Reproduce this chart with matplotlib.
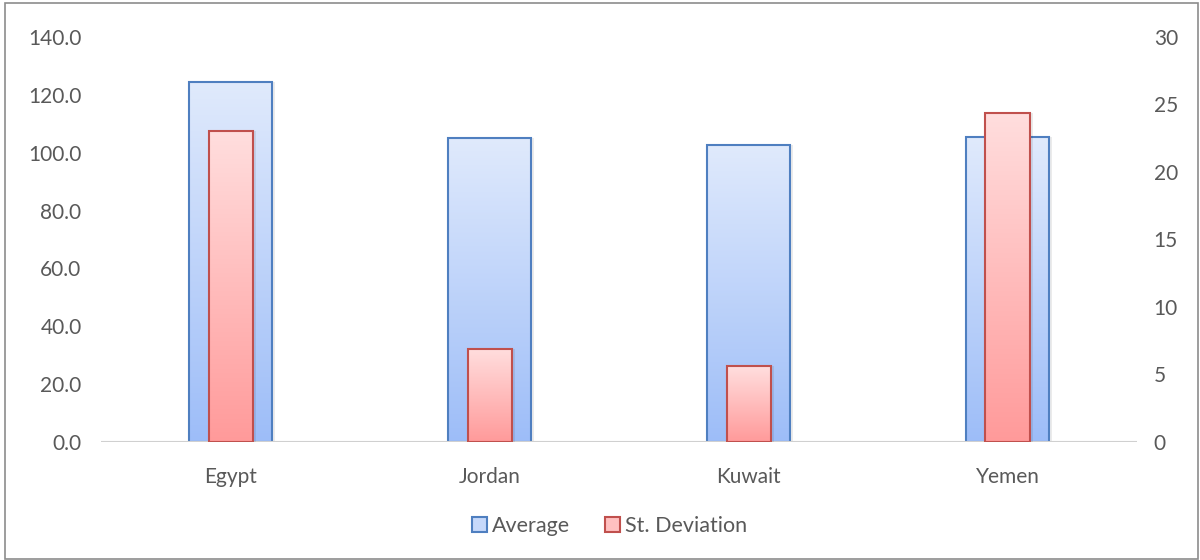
import numpy as np
import matplotlib.pyplot as plt
from matplotlib.colors import LinearSegmentedColormap
from matplotlib.patches import Rectangle, Patch

countries = ["Egypt", "Jordan", "Kuwait", "Yemen"]
average = [124.4, 105.1, 102.7, 105.4]
st_dev = [23.0, 6.9, 5.6, 24.4]

left_ticks = [0, 20, 40, 60, 80, 100, 120, 140]
right_ticks = [0, 5, 10, 15, 20, 25, 30]

plt.rcParams['font.family'] = ['Lato', 'DejaVu Sans']

blue_cmap = LinearSegmentedColormap.from_list("b", ["#9dbdf8", "#e0eafc"])
red_cmap = LinearSegmentedColormap.from_list("r", ["#ff9a9a", "#ffdede"])
grad = np.linspace(0, 1, 256).reshape(-1, 1)

fig = plt.figure(figsize=(12, 5.6), dpi=100)
ax = fig.add_axes([0.0842, 0.2107, 0.8633, 0.7233])
ax2 = ax.twinx()

x = np.arange(len(countries))


def gradient_bars(axis, vals, width, cmap, edge):
    # soft shadow behind the bars
    axis.bar(x + 0.012, vals, width=width, bottom=0, color="black", alpha=0.08,
             linewidth=0, zorder=1)
    bars = axis.bar(x, vals, width=width, facecolor="none", edgecolor=edge,
                    linewidth=1.5, zorder=3)
    for b in bars:
        x0, y0 = b.get_x(), b.get_y()
        w, h = b.get_width(), b.get_height()
        im = axis.imshow(grad, cmap=cmap, aspect="auto", origin="lower",
                         extent=[x0, x0 + w, y0, y0 + h], zorder=2)
        im.set_clip_path(b)
    return bars


gradient_bars(ax, average, 0.317, blue_cmap, "#4f7fc0")
gradient_bars(ax2, st_dev, 0.17, red_cmap, "#c0504d")

ax.set_xlim(-0.5, len(countries) - 0.5)
ax.set_ylim(0, 140)
ax2.set_ylim(0, 30)
ax.set_yticks(left_ticks)
ax.set_yticklabels([f"{v:.1f}" for v in left_ticks])
ax2.set_yticks(right_ticks)
ax.set_xticks(x)
ax.set_xticklabels(countries)

for a in (ax, ax2):
    for s in ("top", "left", "right", "bottom"):
        a.spines[s].set_visible(False)
    a.tick_params(length=0, labelsize=15, colors="#595959")
ax.axhline(0, color="#d0d0d0", linewidth=1.5, zorder=4)
ax.tick_params(axis="y", pad=14)
ax2.tick_params(axis="y", pad=12)
ax.tick_params(axis="x", pad=18)

handles = [Patch(facecolor="#c6d8fa", edgecolor="#4f7fc0", linewidth=1.5, label="Average"),
           Patch(facecolor="#ffc0c0", edgecolor="#c0504d", linewidth=1.5, label="St. Deviation")]
fig.legend(handles=handles, loc="center", bbox_to_anchor=(0.508, 0.06), ncol=2,
           frameon=False, fontsize=15.5, handlelength=0.7, handleheight=0.7,
           handletextpad=0.25, columnspacing=1.6, labelcolor="#595959")

fig.patches.append(Rectangle((0.004, 0.002), 0.994, 0.992, transform=fig.transFigure,
                             fill=False, edgecolor="#8c8c8c", linewidth=1.2))

fig.savefig("out.png", dpi=100)
